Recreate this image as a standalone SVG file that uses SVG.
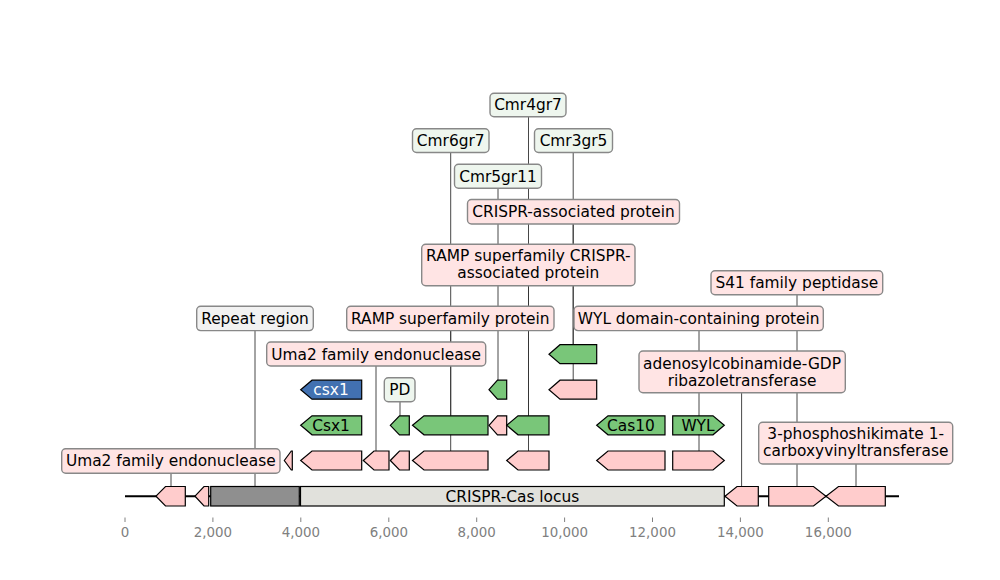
<svg xmlns="http://www.w3.org/2000/svg" width="1000" height="580" viewBox="0 0 1000 580">
<style>
text{font-family:"DejaVu Sans","Liberation Sans",sans-serif;font-size:15.4px;fill:#000;text-anchor:middle}
.ax{font-size:13.4px;fill:#808080}
.tick{stroke:#808080;stroke-width:1}
.lead{stroke:#333;stroke-width:0.9;fill:none}
.f{stroke:#000;stroke-width:1.2;stroke-linejoin:miter}
.pk{fill:#ffcccc}
.gr{fill:#79c679}
.bl{fill:#4271b1}
.lb{stroke:#888;stroke-width:1.4}
.lpk{fill:#ffe4e4}
.lgr{fill:#eef6ee}
.lgy{fill:#f2f2f2}
</style>
<rect width="1000" height="580" fill="#fff"/>
<g id="axis">
<line x1="125" y1="496.2" x2="899" y2="496.2" stroke="#000" stroke-width="2"/>
<g class="tick">
<line x1="125" y1="517.5" x2="125" y2="522"/>
<line x1="212.9" y1="517.5" x2="212.9" y2="522"/>
<line x1="300.8" y1="517.5" x2="300.8" y2="522"/>
<line x1="388.8" y1="517.5" x2="388.8" y2="522"/>
<line x1="476.7" y1="517.5" x2="476.7" y2="522"/>
<line x1="564.6" y1="517.5" x2="564.6" y2="522"/>
<line x1="652.5" y1="517.5" x2="652.5" y2="522"/>
<line x1="740.4" y1="517.5" x2="740.4" y2="522"/>
<line x1="828.3" y1="517.5" x2="828.3" y2="522"/>
</g>
<text class="ax" x="125" y="537">0</text>
<text class="ax" x="212.9" y="537">2,000</text>
<text class="ax" x="300.8" y="537">4,000</text>
<text class="ax" x="388.8" y="537">6,000</text>
<text class="ax" x="476.7" y="537">8,000</text>
<text class="ax" x="564.6" y="537">10,000</text>
<text class="ax" x="652.5" y="537">12,000</text>
<text class="ax" x="740.4" y="537">14,000</text>
<text class="ax" x="828.3" y="537">16,000</text>
</g>
<g id="connectors" class="lead">
<line x1="450.7" y1="152.5" x2="450.7" y2="415.8"/>
<line x1="450.7" y1="330.6" x2="450.7" y2="451"/>
<line x1="498" y1="188.3" x2="498" y2="380.2"/>
<line x1="528.5" y1="116.8" x2="528.5" y2="415.8"/>
<line x1="528.5" y1="285.7" x2="528.5" y2="451"/>
<line x1="573.2" y1="152.5" x2="573.2" y2="344.7"/>
<line x1="573.2" y1="224" x2="573.2" y2="380.2"/>
<line x1="699" y1="330.6" x2="699" y2="451"/>
<line x1="797" y1="294.7" x2="797" y2="486.5"/>
<line x1="741.6" y1="392.7" x2="741.6" y2="486.5"/>
<line x1="856" y1="464" x2="856" y2="486.5"/>
<line x1="255" y1="330.6" x2="255" y2="486.5"/>
<line x1="171" y1="473.2" x2="171" y2="486.5"/>
<line x1="376" y1="366" x2="376" y2="451"/>
<line x1="400" y1="401.7" x2="400" y2="415.8"/>
</g>
<g id="main-track">
<polygon class="f pk" points="156,496.2 165.5,486.5 185.3,486.5 185.3,506 165.5,506"/>
<polygon class="f pk" points="195,496.2 204,486.5 208.7,486.5 208.7,506 204,506"/>
<rect id="repeat-region" class="f" x="210.7" y="486.5" width="88.6" height="19.5" fill="#8f8f8f"/>
<g id="crispr-cas-locus">
<rect class="f" x="300.5" y="486.5" width="423.8" height="19.5" fill="#e1e1dc"/>
<text x="512.4" y="501.6">CRISPR-Cas locus</text>
</g>
<polygon class="f pk" points="725,496.2 737,486.5 758.3,486.5 758.3,506 737,506"/>
<polygon class="f pk" points="768.7,486.5 813.5,486.5 826,496.2 813.5,506 768.7,506"/>
<polygon class="f pk" points="826,496.2 838.5,486.5 885.3,486.5 885.3,506 838.5,506"/>
</g>
<g id="row1">
<polygon class="f pk" points="284.3,460.5 291.3,451 292.3,451 292.3,470 291.3,470"/>
<polygon class="f pk" points="300.7,460.5 312,451 361.7,451 361.7,470 312,470"/>
<polygon class="f pk" points="363.3,460.5 374,451 389,451 389,470 374,470"/>
<polygon class="f pk" points="390.3,460.5 399.5,451 409.3,451 409.3,470 399.5,470"/>
<polygon class="f pk" points="412.5,460.5 424,451 488,451 488,470 424,470"/>
<polygon class="f pk" points="506.7,460.5 518,451 549,451 549,470 518,470"/>
<polygon class="f pk" points="596.7,460.5 608,451 665,451 665,470 608,470"/>
<polygon class="f pk" points="672.7,451 713,451 724.3,460.5 713,470 672.7,470"/>
</g>
<g id="row2">
<g id="Csx1">
<polygon class="f gr" points="300.7,425.3 312,415.8 361.7,415.8 361.7,434.8 312,434.8"/>
<text x="331" y="430.7">Csx1</text>
</g>
<polygon class="f gr" points="390.3,425.3 399.5,415.8 409.3,415.8 409.3,434.8 399.5,434.8"/>
<polygon class="f gr" points="412.5,425.3 424,415.8 488,415.8 488,434.8 424,434.8"/>
<polygon class="f pk" points="489,425.3 497.5,415.8 506.7,415.8 506.7,434.8 497.5,434.8"/>
<polygon class="f gr" points="506.7,425.3 518,415.8 549,415.8 549,434.8 518,434.8"/>
<g id="Cas10">
<polygon class="f gr" points="596.7,425.3 608,415.8 665,415.8 665,434.8 608,434.8"/>
<text x="631" y="430.7">Cas10</text>
</g>
<g id="WYL">
<polygon class="f gr" points="672.7,415.8 713,415.8 724.3,425.3 713,434.8 672.7,434.8"/>
<text x="698" y="430.7">WYL</text>
</g>
</g>
<g id="row3">
<g id="csx1">
<polygon class="f bl" points="300.7,389.7 312,380.2 361.7,380.2 361.7,399.2 312,399.2"/>
<text x="331" y="395.1" style="fill:#fff">csx1</text>
</g>
<polygon class="f gr" points="489,389.7 497.5,380.2 506.7,380.2 506.7,399.2 497.5,399.2"/>
<polygon class="f pk" points="549,389.7 560,380.2 596.7,380.2 596.7,399.2 560,399.2"/>
</g>
<g id="row4">
<polygon class="f gr" points="549,354.2 560,344.7 596.7,344.7 596.7,363.7 560,363.7"/>
</g>
<g id="labels">
<g id="lab-Cmr4gr7"><rect class="lb lgr" x="490" y="93.3" width="76" height="23.5" rx="4"/><text x="528" y="110.4">Cmr4gr7</text></g>
<g id="lab-Cmr6gr7"><rect class="lb lgr" x="412.5" y="128.8" width="76.5" height="23.7" rx="4"/><text x="450.7" y="146.1">Cmr6gr7</text></g>
<g id="lab-Cmr3gr5"><rect class="lb lgr" x="534.5" y="128.8" width="78" height="23.7" rx="4"/><text x="573.5" y="146.1">Cmr3gr5</text></g>
<g id="lab-Cmr5gr11"><rect class="lb lgr" x="454.5" y="164.3" width="87" height="24" rx="4"/><text x="498" y="181.7">Cmr5gr11</text></g>
<g id="lab-crispr-assoc"><rect class="lb lpk" x="467.5" y="199.5" width="212" height="24.5" rx="4"/><text x="573.5" y="217.1">CRISPR-associated protein</text></g>
<g id="lab-ramp-crispr"><rect class="lb lpk" x="421.7" y="244.3" width="213.3" height="41.4" rx="4"/><text x="528.3" y="261.3">RAMP superfamily CRISPR-</text><text x="528.3" y="278.3">associated protein</text></g>
<g id="lab-S41"><rect class="lb lpk" x="711" y="270.7" width="171.7" height="24" rx="4"/><text x="796.8" y="288.1">S41 family peptidase</text></g>
<g id="lab-repeat"><rect class="lb lgy" x="196.7" y="306.3" width="116.6" height="24.3" rx="4"/><text x="255" y="323.8">Repeat region</text></g>
<g id="lab-ramp"><rect class="lb lpk" x="346.7" y="306.3" width="207.3" height="24.3" rx="4"/><text x="450.3" y="323.8">RAMP superfamily protein</text></g>
<g id="lab-wyl"><rect class="lb lpk" x="574" y="306.3" width="249.3" height="24.3" rx="4"/><text x="698.7" y="323.8">WYL domain-containing protein</text></g>
<g id="lab-uma2-upper"><rect class="lb lpk" x="266.7" y="342" width="219" height="24" rx="4"/><text x="376.2" y="359.5">Uma2 family endonuclease</text></g>
<g id="lab-adenosyl"><rect class="lb lpk" x="639" y="351" width="206.3" height="41.7" rx="4"/><text x="742" y="368.9">adenosylcobinamide-GDP</text><text x="742" y="385.6">ribazoletransferase</text></g>
<g id="lab-PD"><rect class="lb lgr" x="384.3" y="377.7" width="30.7" height="24" rx="4"/><text x="399.7" y="395.1">PD</text></g>
<g id="lab-3phospho"><rect class="lb lpk" x="758.7" y="422.3" width="194" height="41.7" rx="4"/><text x="855.7" y="438.9">3-phosphoshikimate 1-</text><text x="855.7" y="456.1">carboxyvinyltransferase</text></g>
<g id="lab-uma2-lower"><rect class="lb lpk" x="61.7" y="448.7" width="218.3" height="24.5" rx="4"/><text x="170.8" y="466.1">Uma2 family endonuclease</text></g>
</g>
</svg>
